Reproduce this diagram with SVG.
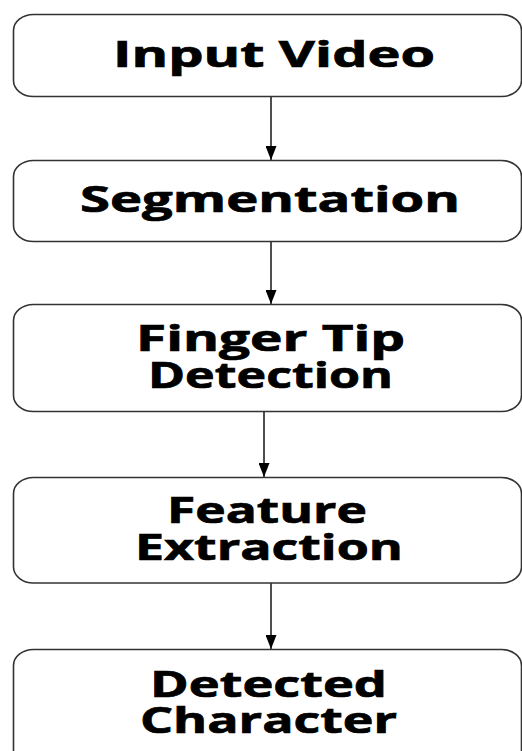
<svg xmlns="http://www.w3.org/2000/svg" width="522" height="751" viewBox="0 0 522 751">
<style>
.box{fill:#fff;stroke:#333;stroke-width:1.6}
.lbl{font-family:"Open Sans","Liberation Sans",sans-serif;font-weight:bold;font-size:36px;fill:#000;stroke:#000;stroke-width:0.7;text-anchor:middle}
.edge{stroke:#222;stroke-width:1.6;fill:none}
</style>
<defs>
<marker id="ah" viewBox="0 0 14 11" refX="14" refY="5.5" markerWidth="14" markerHeight="11" markerUnits="userSpaceOnUse" orient="auto">
<path d="M0,0 L14,5.5 L0,11 Z" fill="#000"/>
</marker>
</defs>
<rect width="522" height="751" fill="#fff"/>
<g id="connectors">
<line class="edge" x1="271" y1="97" x2="271" y2="160" marker-end="url(#ah)"/>
<line class="edge" x1="271" y1="242" x2="271" y2="304" marker-end="url(#ah)"/>
<line class="edge" x1="264" y1="412" x2="264" y2="477" marker-end="url(#ah)"/>
<line class="edge" x1="271" y1="583" x2="271" y2="649" marker-end="url(#ah)"/>
</g>
<g id="n1">
<rect class="box" x="13.5" y="14.5" width="508" height="82" rx="20" ry="16"/>
<text class="lbl" x="274" y="67" textLength="322" lengthAdjust="spacingAndGlyphs">Input Video</text>
</g>
<g id="n2">
<rect class="box" x="13.5" y="160.5" width="508" height="81" rx="20" ry="16"/>
<text class="lbl" x="270" y="212" textLength="380" lengthAdjust="spacingAndGlyphs">Segmentation</text>
</g>
<g id="n3">
<rect class="box" x="13.5" y="304.5" width="508" height="107" rx="20" ry="16"/>
<text class="lbl"><tspan x="270.5" y="351" textLength="269" lengthAdjust="spacingAndGlyphs">Finger Tip</tspan><tspan x="270.5" y="388" textLength="245" lengthAdjust="spacingAndGlyphs">Detection</tspan></text>
</g>
<g id="n4">
<rect class="box" x="13.5" y="477.5" width="508" height="105.5" rx="20" ry="16"/>
<text class="lbl"><tspan x="267" y="523" textLength="200" lengthAdjust="spacingAndGlyphs">Feature</tspan><tspan x="269" y="560" textLength="268" lengthAdjust="spacingAndGlyphs">Extraction</tspan></text>
</g>
<g id="n5">
<rect class="box" x="13.5" y="649.5" width="508" height="130" rx="20" ry="16"/>
<text class="lbl"><tspan x="268.5" y="697" textLength="237" lengthAdjust="spacingAndGlyphs">Detected</tspan><tspan x="268.5" y="733" textLength="257" lengthAdjust="spacingAndGlyphs">Character</tspan></text>
</g>
</svg>
